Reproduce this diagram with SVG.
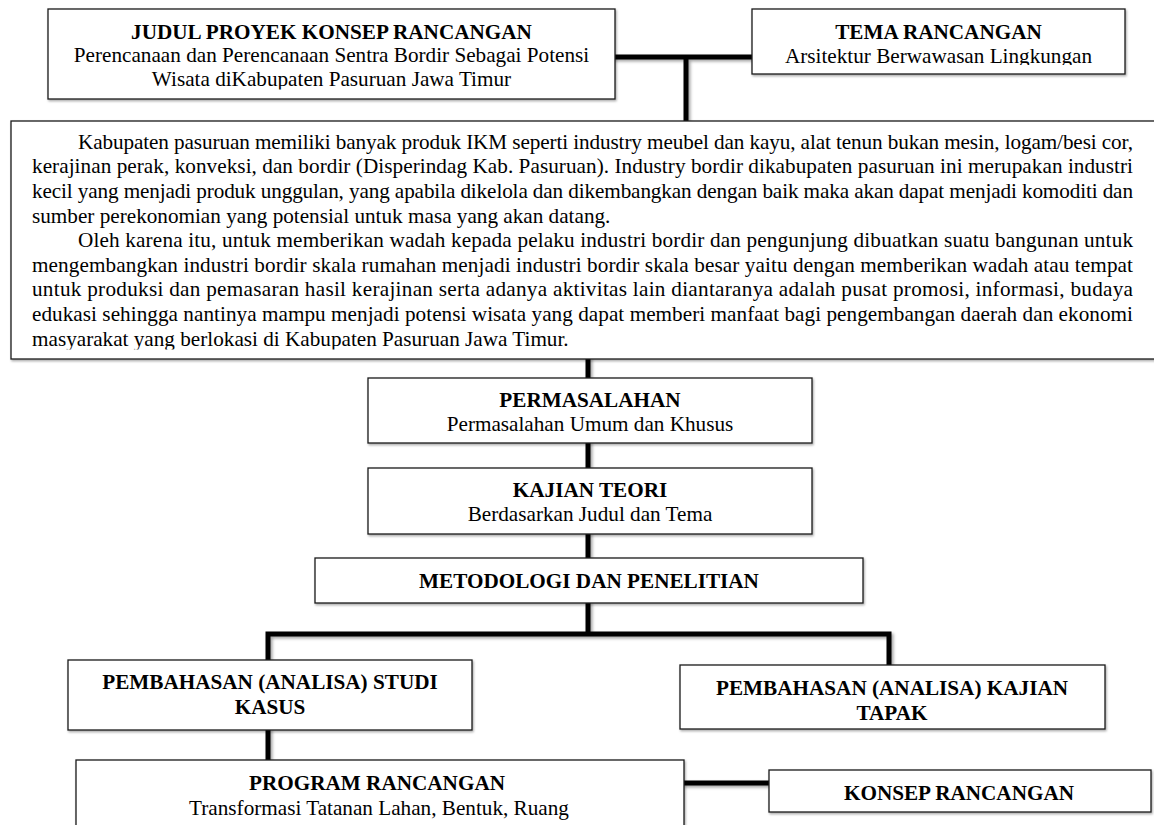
<svg xmlns="http://www.w3.org/2000/svg" width="1154" height="825" viewBox="0 0 1154 825">
<style>
.box{fill:#fff;stroke:#1a1a1a;stroke-width:1.3}
.t{font-family:"Liberation Serif","Times New Roman",serif;font-size:21.2px;fill:#000}
.b{font-weight:bold}
.c{text-anchor:middle}
.con{fill:none;stroke:#000;stroke-width:5;stroke-linecap:butt;stroke-linejoin:miter}
</style>
<defs>
<filter id="sh" x="-10%" y="-10%" width="130%" height="130%">
<feDropShadow dx="2" dy="2" stdDeviation="1.5" flood-color="#000" flood-opacity="0.35"/>
</filter>
<filter id="bsh" x="-5%" y="-5%" width="110%" height="120%">
<feDropShadow dx="1" dy="1.5" stdDeviation="0.8" flood-color="#000" flood-opacity="0.35"/>
</filter>
<clipPath id="cpJudul"><rect x="48" y="9" width="567" height="80.5"/></clipPath>
<clipPath id="cpTema"><rect x="752" y="9" width="373" height="56"/></clipPath>
<clipPath id="cpPar"><rect x="11" y="121" width="1150" height="228.5"/></clipPath>
</defs>
<rect width="1154" height="825" fill="#fff"/>

<g id="connectors" filter="url(#sh)">
<path class="con" d="M612 57 H755"/>
<path class="con" d="M686 57 V123"/>
<path class="con" d="M588 357 V380"/>
<path class="con" d="M588 441 V470"/>
<path class="con" d="M588 532 V560"/>
<path class="con" d="M588 601 V634"/>
<path class="con" d="M268 662 V634 H889 V667"/>
<path class="con" d="M268 728 V762"/>
<path class="con" d="M682 783 H771"/>
</g>

<g id="judul">
<rect class="box" filter="url(#bsh)" x="48" y="9" width="567" height="90"/>
<g clip-path="url(#cpJudul)">
<text class="t b c" x="331.5" y="38.5">JUDUL PROYEK KONSEP RANCANGAN</text>
<text class="t c" x="331.5" y="62">Perencanaan dan Perencanaan Sentra Bordir Sebagai Potensi</text>
<text class="t c" x="331.5" y="86">Wisata diKabupaten Pasuruan Jawa Timur</text>
</g>
</g>

<g id="tema">
<rect class="box" filter="url(#bsh)" x="752" y="9" width="373" height="65"/>
<g clip-path="url(#cpTema)">
<text class="t b c" x="938.5" y="39">TEMA RANCANGAN</text>
<text class="t c" x="938.5" y="62.5">Arsitektur Berwawasan Lingkungan</text>
</g>
</g>

<g id="latar">
<rect class="box" filter="url(#bsh)" x="11" y="121" width="1160" height="238"/>
<g clip-path="url(#cpPar)">
<text class="t" x="78" y="148.8" textLength="1055" lengthAdjust="spacing">Kabupaten pasuruan memiliki banyak produk IKM seperti industry meubel dan kayu, alat tenun bukan mesin, logam/besi cor,</text>
<text class="t" x="32" y="173.4" textLength="1101" lengthAdjust="spacing">kerajinan perak, konveksi, dan bordir (Disperindag Kab. Pasuruan). Industry bordir dikabupaten pasuruan ini merupakan industri</text>
<text class="t" x="32" y="198" textLength="1101" lengthAdjust="spacing">kecil yang menjadi produk unggulan, yang apabila dikelola dan dikembangkan dengan baik maka akan dapat menjadi komoditi dan</text>
<text class="t" x="32" y="222.6">sumber perekonomian yang potensial untuk masa yang akan datang.</text>
<text class="t" x="78" y="247.2" textLength="1055" lengthAdjust="spacing">Oleh karena itu, untuk memberikan wadah kepada pelaku industri bordir dan pengunjung dibuatkan suatu bangunan untuk</text>
<text class="t" x="32" y="271.8" textLength="1101" lengthAdjust="spacing">mengembangkan industri bordir skala rumahan menjadi industri bordir skala besar yaitu dengan memberikan wadah atau tempat</text>
<text class="t" x="32" y="296.4" textLength="1101" lengthAdjust="spacing">untuk produksi dan pemasaran hasil kerajinan serta adanya aktivitas lain diantaranya adalah pusat promosi, informasi, budaya</text>
<text class="t" x="32" y="321" textLength="1101" lengthAdjust="spacing">edukasi sehingga nantinya mampu menjadi potensi wisata yang dapat memberi manfaat bagi pengembangan daerah dan ekonomi</text>
<text class="t" x="32" y="345.6">masyarakat yang berlokasi di Kabupaten Pasuruan Jawa Timur.</text>
</g>
</g>

<g id="permasalahan">
<rect class="box" filter="url(#bsh)" x="368" y="378" width="444" height="65"/>
<text class="t b c" x="590" y="407">PERMASALAHAN</text>
<text class="t c" x="590" y="431">Permasalahan Umum dan Khusus</text>
</g>

<g id="kajian-teori">
<rect class="box" filter="url(#bsh)" x="368" y="468" width="444" height="66"/>
<text class="t b c" x="590" y="497">KAJIAN TEORI</text>
<text class="t c" x="590" y="521">Berdasarkan Judul dan Tema</text>
</g>

<g id="metodologi">
<rect class="box" filter="url(#bsh)" x="315" y="558" width="548" height="45"/>
<text class="t b c" x="589" y="588">METODOLOGI DAN PENELITIAN</text>
</g>

<g id="studi-kasus">
<rect class="box" filter="url(#bsh)" x="68" y="660" width="404" height="70"/>
<text class="t b c" x="270" y="689">PEMBAHASAN (ANALISA) STUDI</text>
<text class="t b c" x="270" y="714">KASUS</text>
</g>

<g id="kajian-tapak">
<rect class="box" filter="url(#bsh)" x="680" y="665" width="425" height="64"/>
<text class="t b c" x="892" y="695">PEMBAHASAN (ANALISA) KAJIAN</text>
<text class="t b c" x="892" y="720">TAPAK</text>
</g>

<g id="program">
<rect class="box" filter="url(#bsh)" x="76" y="760" width="608" height="80"/>
<text class="t b c" x="377" y="790">PROGRAM RANCANGAN</text>
<text class="t c" x="379" y="815">Transformasi Tatanan Lahan, Bentuk, Ruang</text>
</g>

<g id="konsep">
<rect class="box" filter="url(#bsh)" x="769" y="770" width="382" height="42"/>
<text class="t b c" x="959" y="800">KONSEP RANCANGAN</text>
</g>
</svg>
